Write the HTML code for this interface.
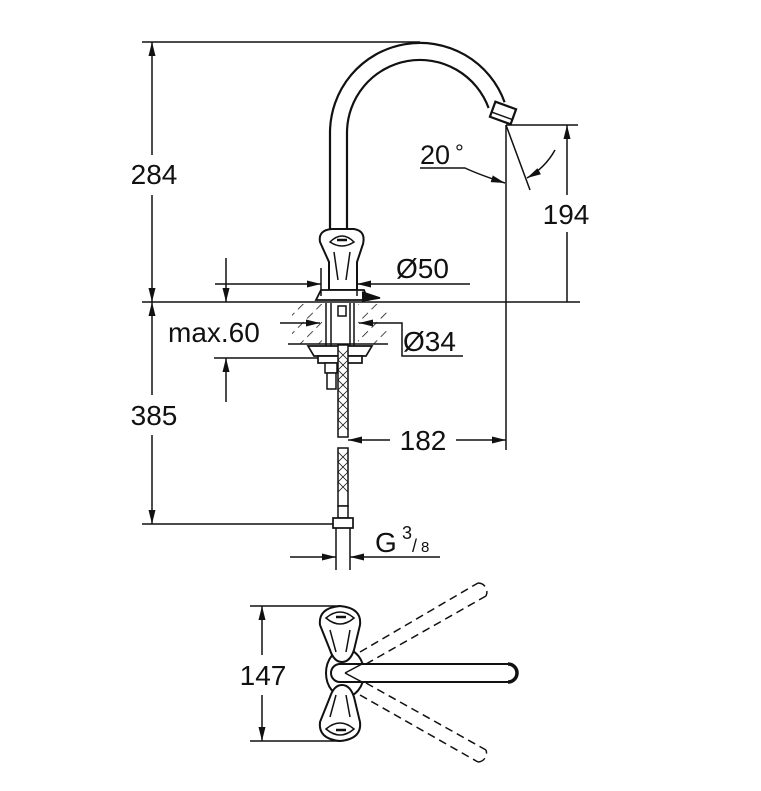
<!DOCTYPE html>
<html><head><style>
html,body{margin:0;padding:0;background:#fff;}
svg{display:block;}
text{font-family:"Liberation Sans",Arial,sans-serif;fill:#111;}
</style></head><body>
<svg width="761" height="791" viewBox="0 0 761 791" xmlns="http://www.w3.org/2000/svg">
<defs>
<marker id="a" viewBox="0 0 14 7" refX="14" refY="3.5" markerWidth="14" markerHeight="7" orient="auto" markerUnits="userSpaceOnUse"><path d="M0,0L14,3.5L0,7z" fill="#111"/></marker>
<pattern id="h" width="13" height="13" patternUnits="userSpaceOnUse" patternTransform="rotate(45)"><line x1="0" y1="0" x2="0" y2="13" stroke="#111" stroke-width="1.5" stroke-dasharray="8 5"/></pattern>
</defs>
<g stroke="#111" stroke-width="1.5" fill="none">
<line x1="142" y1="42" x2="420" y2="42"/>
<line x1="142" y1="302" x2="580" y2="302"/>
<line x1="152" y1="155" x2="152" y2="42" marker-end="url(#a)"/>
<line x1="152" y1="195" x2="152" y2="302" marker-end="url(#a)"/>
<line x1="152" y1="395" x2="152" y2="302" marker-end="url(#a)"/>
<line x1="152" y1="435" x2="152" y2="524" marker-end="url(#a)"/>
<line x1="142" y1="524" x2="336" y2="524"/>
<!-- spout -->
<path d="M330,290 L330,133 A90,90 0 0 1 504.6,102.2" stroke-width="2.2"/>
<path d="M347,232 L347,133 A73,73 0 0 1 488.6,108" stroke-width="2.2"/>
<g transform="translate(503,113) rotate(-70)"><rect x="-8" y="-11" width="16" height="22" fill="#fff" stroke-width="2.2"/><line x1="-3" y1="-11" x2="-3" y2="11"/></g>
<!-- 194 -->
<line x1="506" y1="125" x2="578" y2="125"/>
<line x1="567" y1="195" x2="567" y2="125" marker-end="url(#a)"/>
<line x1="567" y1="232" x2="567" y2="302"/>
<!-- 20 deg -->
<line x1="506" y1="125" x2="506" y2="450"/>
<line x1="506" y1="125" x2="530" y2="190"/>
<path d="M420,168 L465,168 Q480,175 505,183" marker-end="url(#a)"/>
<path d="M555,150 Q545,168 527,178" marker-end="url(#a)"/>
<!-- handle body -->
<path d="M320,242 Q318,230 332,229 L354,229 Q366,231 363,244 L357,262 L357,290 L329,290 L329,262 Z" fill="#fff" stroke-width="2"/>
<path d="M330,242 Q342,230 354,242 Q342,250 330,242 Z"/>
<line x1="337" y1="240" x2="347" y2="240" stroke-width="2.5"/>
<path d="M334,252 L338,280 M350,252 L346,280"/>
<path d="M321,290 L364,290 L368,300 L316,300 Z" fill="#fff" stroke-width="1.8"/>
<path d="M362,292 L380,298 L362,301" fill="#111"/>
<!-- O50 -->
<line x1="215" y1="284" x2="321" y2="284" marker-end="url(#a)"/>
<line x1="470" y1="284" x2="357" y2="284" marker-end="url(#a)"/>
<line x1="321" y1="268" x2="321" y2="296"/>
<line x1="357" y1="268" x2="357" y2="296"/>
<!-- hatch counter -->
<rect x="292" y="304" width="95" height="40" fill="url(#h)" stroke="none"/>
<rect x="322" y="303" width="36" height="44" fill="#fff" stroke="none"/>
<line x1="288" y1="344" x2="388" y2="344"/>
<line x1="326" y1="303" x2="326" y2="346"/><line x1="354" y1="303" x2="354" y2="346"/>
<line x1="331" y1="303" x2="331" y2="346"/><line x1="350" y1="303" x2="350" y2="346"/>
<rect x="338" y="306" width="8" height="10"/>
<!-- max.60 -->
<line x1="226" y1="258" x2="226" y2="302" marker-end="url(#a)"/>
<line x1="226" y1="402" x2="226" y2="358" marker-end="url(#a)"/>
<line x1="214" y1="358" x2="318" y2="358"/>
<!-- O34 -->
<line x1="280" y1="323" x2="320" y2="323" marker-end="url(#a)"/>
<line x1="378" y1="323" x2="359" y2="323" marker-end="url(#a)"/>
<polyline points="378,323 402,323 402,356 463,356"/>
<!-- flange & nuts -->
<path d="M308,346 L372,346 L366,356 L314,356 Z" fill="#fff" stroke-width="1.7"/>
<rect x="318" y="356" width="44" height="7" fill="#fff" stroke-width="1.7"/>
<rect x="325" y="363" width="12" height="10" fill="#fff"/>
<rect x="327" y="373" width="9" height="16" fill="#fff"/>
<!-- hose -->
<rect x="338" y="345" width="10" height="92" fill="#fff"/>
<path d="M338,350 L348,360 M338,360 L348,370 M338,370 L348,380 M338,380 L348,390 M338,390 L348,400 M338,400 L348,410 M338,410 L348,420 M338,420 L348,430 M348,350 L338,360 M348,360 L338,370 M348,370 L338,380 M348,380 L338,390 M348,390 L338,400 M348,400 L338,410 M348,410 L338,420 M348,420 L338,430" stroke-width="0.8"/>
<rect x="338" y="448" width="10" height="58" fill="#fff"/>
<path d="M338,452 L348,462 M338,462 L348,472 M338,472 L348,482 M338,482 L348,492 M348,452 L338,462 M348,462 L338,472 M348,472 L338,482 M348,482 L338,492" stroke-width="0.8"/>
<rect x="338" y="506" width="10" height="12" fill="#fff"/>
<rect x="333" y="518" width="20" height="10" fill="#fff" stroke-width="1.7"/>
<line x1="336" y1="528" x2="336" y2="570"/><line x1="350" y1="528" x2="350" y2="570"/>
<!-- 182 -->
<line x1="390" y1="440" x2="348" y2="440" marker-end="url(#a)"/>
<line x1="456" y1="440" x2="506" y2="440" marker-end="url(#a)"/>
<!-- G3/8 -->
<line x1="290" y1="557" x2="336" y2="557" marker-end="url(#a)"/>
<line x1="440" y1="557" x2="350" y2="557" marker-end="url(#a)"/>
<!-- 147 -->
<line x1="250" y1="606" x2="340" y2="606"/>
<line x1="250" y1="741" x2="340" y2="741"/>
<line x1="262" y1="655" x2="262" y2="606" marker-end="url(#a)"/>
<line x1="262" y1="695" x2="262" y2="741" marker-end="url(#a)"/>
<!-- dashed levers -->
<g stroke-dasharray="8 5">
<line x1="360" y1="652" x2="478" y2="583"/><line x1="366" y1="664" x2="486" y2="596"/>
<line x1="360" y1="695" x2="478" y2="762"/><line x1="366" y1="683" x2="486" y2="750"/>
<path d="M478,583 A9,9 0 0 1 486,596"/><path d="M478,762 A9,9 0 0 0 486,750"/>
</g>
<!-- handles plan -->
<ellipse cx="345" cy="673" rx="19" ry="24" fill="#fff" stroke-width="2"/>
<path d="M320,625 Q318,608 340,606 Q362,608 360,625 L354,650 Q350,662 342,662 Q334,662 330,650 Z" fill="#fff" stroke-width="2"/>
<path d="M326,618 Q340,606 354,618 Q340,630 326,618 Z"/>
<line x1="336" y1="617" x2="346" y2="617" stroke-width="2.5"/>
<path d="M330,630 L336,652 M350,630 L346,652"/>
<path d="M320,722 Q318,739 340,741 Q362,739 360,722 L354,697 Q350,685 342,685 Q334,685 330,697 Z" fill="#fff" stroke-width="2"/>
<path d="M326,729 Q340,717 354,729 Q340,741 326,729 Z"/>
<line x1="336" y1="730" x2="346" y2="730" stroke-width="2.5"/>
<path d="M330,717 L336,695 M350,717 L346,695"/>
<!-- main lever -->
<path d="M340,664 L508,664 A9,9 0 0 1 508,682 L340,682 A9,9 0 0 1 340,664 Z" fill="#fff" stroke-width="2"/>
<path d="M508,664 A9,9 0 0 1 508,682" stroke-width="3.5"/>
<line x1="345" y1="673" x2="362" y2="664"/><line x1="345" y1="673" x2="362" y2="682"/>
</g>
<rect x="124" y="156" width="60" height="36" fill="#fff"/>
<text x="154" y="184" font-size="28" text-anchor="middle">284</text>
<rect x="124" y="396" width="60" height="38" fill="#fff"/>
<text x="154" y="425" font-size="28" text-anchor="middle">385</text>
<text x="566" y="224" font-size="28" text-anchor="middle">194</text>
<text x="420" y="164" font-size="27">20</text><text x="455" y="160" font-size="22">°</text>
<text x="396" y="278" font-size="28">Ø50</text>
<text x="168" y="342" font-size="28">max.60</text>
<text x="403" y="351" font-size="28">Ø34</text>
<text x="423" y="450" font-size="28" text-anchor="middle">182</text>
<text x="375" y="552" font-size="28">G</text><text x="402" y="539" font-size="18">3</text><text x="412" y="552" font-size="18">/</text><text x="421" y="552" font-size="15">8</text>
<rect x="232" y="656" width="62" height="36" fill="#fff"/>
<text x="263" y="685" font-size="28" text-anchor="middle">147</text>
</svg>
</body></html>
